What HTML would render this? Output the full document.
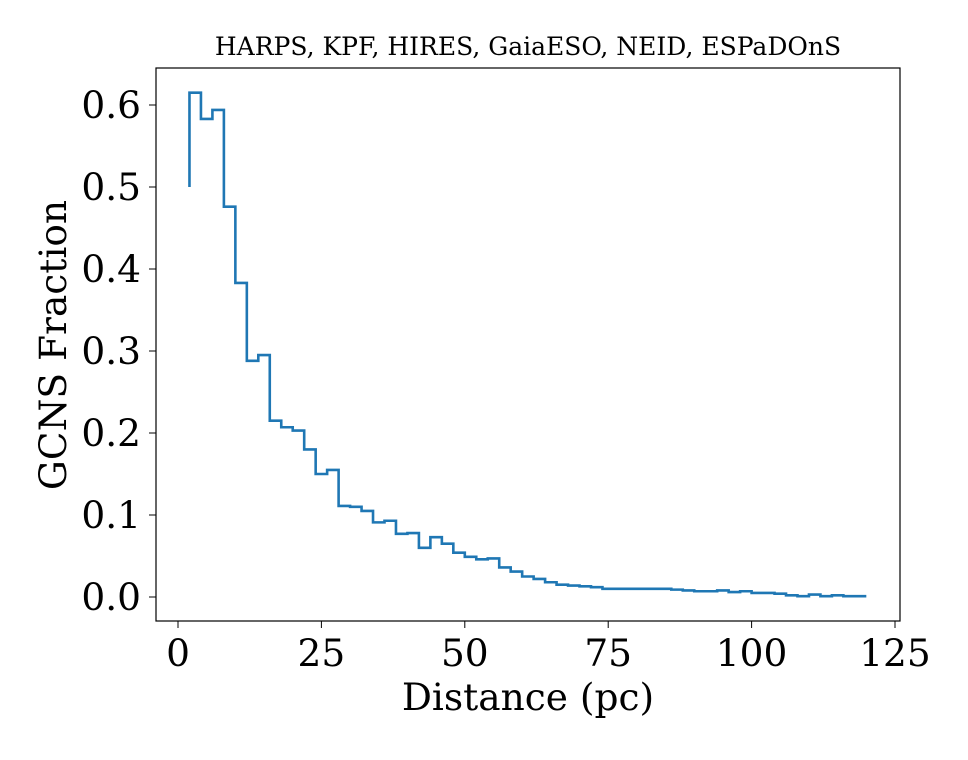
<!DOCTYPE html>
<html><head><meta charset="utf-8"><style>
body{margin:0;background:#fff}
svg text{font-family:"DejaVu Serif","Liberation Serif",serif;fill:#000}
</style></head><body>
<svg id="chart" width="968" height="755">
<rect x="156" y="68" width="744" height="553" fill="none" stroke="#000" stroke-width="1.2"/>
<text x="528" y="55" font-size="25" text-anchor="middle">HARPS, KPF, HIRES, GaiaESO, NEID, ESPaDOnS</text>
<text x="528" y="710" font-size="37.5" text-anchor="middle">Distance (pc)</text>
<text transform="translate(66,345) rotate(-90)" font-size="37.5" text-anchor="middle">GCNS Fraction</text>
<g id="ticks"></g>
<path id="line" fill="none" stroke="#1f77b4" stroke-width="2.6"/>
</svg>
<script>
const xs = [2,4,6,8,10,12,14,16,18,20,22,24,26,28,30,32,34,36,38,40,42,44,46,48,50,52,54,56,58,60,62,64,66,68,70,72,74,76,78,80,82,84,86,88,90,92,94,96,98,100,102,104,106,108,110,112,114,116,118,120];
const ys = [0.5,0.615,0.583,0.594,0.476,0.383,0.288,0.295,0.215,0.207,0.203,0.180,0.150,0.155,0.111,0.110,0.105,0.091,0.093,0.077,0.078,0.060,0.073,0.065,0.054,0.049,0.046,0.047,0.036,0.031,0.025,0.022,0.018,0.015,0.014,0.013,0.012,0.010,0.010,0.010,0.010,0.010,0.010,0.009,0.008,0.007,0.007,0.008,0.006,0.007,0.005,0.005,0.004,0.002,0.001,0.003,0.001,0.002,0.001,0.001];
const xTicks = [0,25,50,75,100,125];
const yTicks = [0.0,0.1,0.2,0.3,0.4,0.5,0.6];
const X = v => 178 + v*5.736;
const Y = v => 597 - v*820;
let d = `M${X(xs[0])},${Y(ys[0])}`;
for (let i=1;i<xs.length;i++){ d += ` L${X(xs[i-1])},${Y(ys[i])} L${X(xs[i])},${Y(ys[i])}`; }
document.getElementById('line').setAttribute('d', d);
const g = document.getElementById('ticks');
const NS='http://www.w3.org/2000/svg';
xTicks.forEach(t=>{
  const l=document.createElementNS(NS,'line');
  l.setAttribute('x1',X(t));l.setAttribute('x2',X(t));l.setAttribute('y1',621);l.setAttribute('y2',628);l.setAttribute('stroke','#000');
  
  
  g.appendChild(l);
  const tx=document.createElementNS(NS,'text');
  tx.setAttribute('x',X(t));tx.setAttribute('y',666);tx.setAttribute('font-size','37.5');tx.setAttribute('text-anchor','middle');
  tx.textContent=t;
  
  
  g.appendChild(tx);
});
yTicks.forEach(t=>{
  const l=document.createElementNS(NS,'line');
  l.setAttribute('x1',149);l.setAttribute('x2',156);l.setAttribute('y1',Y(t));l.setAttribute('y2',Y(t));l.setAttribute('stroke','#000');
  
  
  g.appendChild(l);
  const tx=document.createElementNS(NS,'text');
  tx.setAttribute('x',141);tx.setAttribute('y',Y(t)+13);tx.setAttribute('font-size','37.5');tx.setAttribute('text-anchor','end');
  tx.textContent=t.toFixed(1);
  
  
  g.appendChild(tx);
});
</script>
</body></html>
